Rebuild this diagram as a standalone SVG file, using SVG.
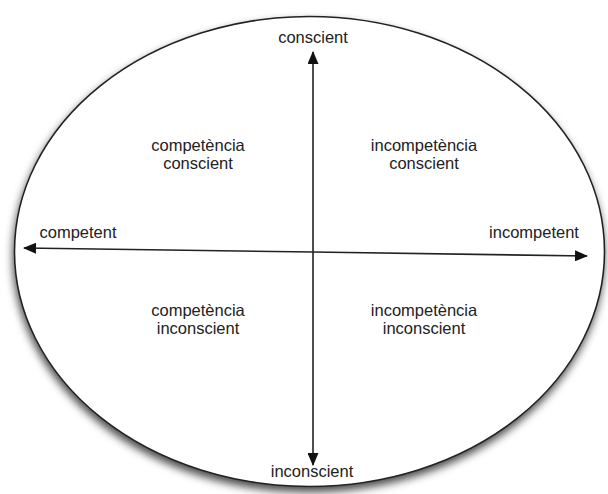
<svg xmlns="http://www.w3.org/2000/svg" width="608" height="494" viewBox="0 0 608 494">
<defs>
<style>
text{font-family:"Liberation Sans",Arial,sans-serif;font-size:16.5px;fill:#222;text-anchor:middle}
.axis{stroke:#222;stroke-width:1.6;fill:none}
</style>
<filter id="sh" x="-10%" y="-10%" width="120%" height="125%">
<feDropShadow dx="-1" dy="5" stdDeviation="4" flood-color="#000" flood-opacity="0.7"/>
</filter>
<marker id="ah" viewBox="0 0 13 11" refX="12" refY="5.5" markerWidth="13" markerHeight="11" markerUnits="userSpaceOnUse" orient="auto">
<path d="M0,0 L13,5.5 L0,11 Z" fill="#111"/>
</marker>
</defs>
<rect width="608" height="494" fill="#fff"/>
<g id="ellipse"><ellipse cx="309.5" cy="251.5" rx="295" ry="235" fill="#fff" stroke="#222" stroke-width="1.6" filter="url(#sh)"/></g>
<g id="connectors">
<line class="axis" x1="313" y1="252" x2="313" y2="52" marker-end="url(#ah)"/>
<line class="axis" x1="313" y1="252" x2="313" y2="465" marker-end="url(#ah)"/>
<line class="axis" x1="313" y1="252" x2="24" y2="248" marker-end="url(#ah)"/>
<line class="axis" x1="313" y1="252" x2="587" y2="256" marker-end="url(#ah)"/>
</g>
<g id="n-conscient"><text x="313" y="43">conscient</text></g>
<g id="n-inconscient"><text x="312" y="477">inconscient</text></g>
<g id="n-competent"><text x="78" y="238">competent</text></g>
<g id="n-incompetent"><text x="534" y="238">incompetent</text></g>
<g id="q-cc"><text x="198" y="151">competència</text><text x="198" y="169">conscient</text></g>
<g id="q-ic"><text x="424" y="151">incompetència</text><text x="424" y="169">conscient</text></g>
<g id="q-ci"><text x="198" y="316">competència</text><text x="198" y="334">inconscient</text></g>
<g id="q-ii"><text x="424" y="316">incompetència</text><text x="424" y="334">inconscient</text></g>
</svg>
